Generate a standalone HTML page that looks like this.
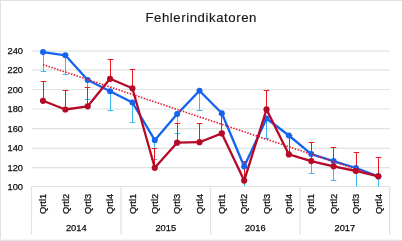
<!DOCTYPE html>
<html><head><meta charset="utf-8"><title>Fehlerindikatoren</title>
<style>html,body{margin:0;padding:0;background:#fff}svg{display:block}text{font-family:"Liberation Sans",sans-serif;fill:#1a1a1a}.s{font-size:9.3px;fill:#0d0d0d;stroke:#0d0d0d;stroke-width:.25px}</style></head>
<body>
<svg width="402" height="241" viewBox="0 0 402 241">
<rect width="402" height="241" fill="#fff"/>
<rect x="0" y="0" width="402" height="1" fill="#dce3e2"/>
<rect x="0" y="0" width="1" height="241" fill="#dce3e2"/>
<rect x="0" y="240" width="402" height="1" fill="#dfe5e4"/>
<rect x="0" y="239" width="402" height="1" fill="#f3f6f5"/>
<line x1="31.5" x2="390.0" y1="186.50" y2="186.50" stroke="#dce4e1" stroke-width="1.2"/>
<line x1="31.5" x2="390.0" y1="167.60" y2="167.60" stroke="#dce4e1" stroke-width="1.2"/>
<line x1="31.5" x2="390.0" y1="148.30" y2="148.30" stroke="#dce4e1" stroke-width="1.2"/>
<line x1="31.5" x2="390.0" y1="128.70" y2="128.70" stroke="#dce4e1" stroke-width="1.2"/>
<line x1="31.5" x2="390.0" y1="109.00" y2="109.00" stroke="#dce4e1" stroke-width="1.2"/>
<line x1="31.5" x2="390.0" y1="89.50" y2="89.50" stroke="#dce4e1" stroke-width="1.2"/>
<line x1="31.5" x2="390.0" y1="69.90" y2="69.90" stroke="#dce4e1" stroke-width="1.2"/>
<line x1="31.5" x2="390.0" y1="51.20" y2="51.20" stroke="#dce4e1" stroke-width="1.2"/>
<line x1="31.50" x2="31.50" y1="186.5" y2="234.6" stroke="#dce4e1" stroke-width="1.2"/>
<line x1="121.03" x2="121.03" y1="186.5" y2="234.6" stroke="#dce4e1" stroke-width="1.2"/>
<line x1="210.55" x2="210.55" y1="186.5" y2="234.6" stroke="#dce4e1" stroke-width="1.2"/>
<line x1="300.08" x2="300.08" y1="186.5" y2="234.6" stroke="#dce4e1" stroke-width="1.2"/>
<line x1="389.60" x2="389.60" y1="186.5" y2="234.6" stroke="#dce4e1" stroke-width="1.2"/>
<text class="s" x="23" y="190.23" text-anchor="end">100</text>
<text class="s" x="23" y="170.74" text-anchor="end">120</text>
<text class="s" x="23" y="151.25" text-anchor="end">140</text>
<text class="s" x="23" y="131.76" text-anchor="end">160</text>
<text class="s" x="23" y="112.27" text-anchor="end">180</text>
<text class="s" x="23" y="92.78" text-anchor="end">200</text>
<text class="s" x="23" y="73.29" text-anchor="end">220</text>
<text class="s" x="23" y="53.80" text-anchor="end">240</text>
<text x="201.2" y="22.1" font-size="13.2" letter-spacing="0.57" text-anchor="middle" fill="#111" stroke="#111" stroke-width="0.15">Fehlerindikatoren</text>
<text class="s" transform="translate(46.20,214) rotate(-90)">Qrtl1</text>
<text class="s" transform="translate(68.55,214) rotate(-90)">Qrtl2</text>
<text class="s" transform="translate(90.91,214) rotate(-90)">Qrtl3</text>
<text class="s" transform="translate(113.26,214) rotate(-90)">Qrtl4</text>
<text class="s" transform="translate(135.61,214) rotate(-90)">Qrtl1</text>
<text class="s" transform="translate(157.97,214) rotate(-90)">Qrtl2</text>
<text class="s" transform="translate(180.32,214) rotate(-90)">Qrtl3</text>
<text class="s" transform="translate(202.67,214) rotate(-90)">Qrtl4</text>
<text class="s" transform="translate(225.02,214) rotate(-90)">Qrtl1</text>
<text class="s" transform="translate(247.38,214) rotate(-90)">Qrtl2</text>
<text class="s" transform="translate(269.73,214) rotate(-90)">Qrtl3</text>
<text class="s" transform="translate(292.08,214) rotate(-90)">Qrtl4</text>
<text class="s" transform="translate(314.44,214) rotate(-90)">Qrtl1</text>
<text class="s" transform="translate(336.79,214) rotate(-90)">Qrtl2</text>
<text class="s" transform="translate(359.14,214) rotate(-90)">Qrtl3</text>
<text class="s" transform="translate(381.50,214) rotate(-90)">Qrtl4</text>
<text class="s" x="76.26" y="230.5" text-anchor="middle">2014</text>
<text class="s" x="165.79" y="230.5" text-anchor="middle">2015</text>
<text class="s" x="255.31" y="230.5" text-anchor="middle">2016</text>
<text class="s" x="344.84" y="230.5" text-anchor="middle">2017</text>
<line x1="43.50" x2="43.50" y1="52.10" y2="71.50" stroke="#3db8f2" stroke-width="1"/>
<line x1="40.70" x2="46.30" y1="71.50" y2="71.50" stroke="#3db8f2" stroke-width="1"/>
<line x1="65.50" x2="65.50" y1="55.30" y2="74.50" stroke="#3db8f2" stroke-width="1"/>
<line x1="62.70" x2="68.30" y1="74.50" y2="74.50" stroke="#3db8f2" stroke-width="1"/>
<line x1="87.50" x2="87.50" y1="80.00" y2="99.50" stroke="#3db8f2" stroke-width="1"/>
<line x1="84.70" x2="90.30" y1="99.50" y2="99.50" stroke="#3db8f2" stroke-width="1"/>
<line x1="110.50" x2="110.50" y1="91.30" y2="110.50" stroke="#3db8f2" stroke-width="1"/>
<line x1="107.70" x2="113.30" y1="110.50" y2="110.50" stroke="#3db8f2" stroke-width="1"/>
<line x1="132.50" x2="132.50" y1="102.50" y2="122.50" stroke="#3db8f2" stroke-width="1"/>
<line x1="129.70" x2="135.30" y1="122.50" y2="122.50" stroke="#3db8f2" stroke-width="1"/>
<line x1="154.50" x2="154.50" y1="140.20" y2="159.50" stroke="#3db8f2" stroke-width="1"/>
<line x1="151.70" x2="157.30" y1="159.50" y2="159.50" stroke="#3db8f2" stroke-width="1"/>
<line x1="177.50" x2="177.50" y1="114.10" y2="133.50" stroke="#3db8f2" stroke-width="1"/>
<line x1="174.70" x2="180.30" y1="133.50" y2="133.50" stroke="#3db8f2" stroke-width="1"/>
<line x1="199.50" x2="199.50" y1="90.70" y2="110.50" stroke="#3db8f2" stroke-width="1"/>
<line x1="196.70" x2="202.30" y1="110.50" y2="110.50" stroke="#3db8f2" stroke-width="1"/>
<line x1="221.50" x2="221.50" y1="113.30" y2="132.50" stroke="#3db8f2" stroke-width="1"/>
<line x1="218.70" x2="224.30" y1="132.50" y2="132.50" stroke="#3db8f2" stroke-width="1"/>
<line x1="244.50" x2="244.50" y1="166.50" y2="186.10" stroke="#3db8f2" stroke-width="1"/>
<line x1="266.50" x2="266.50" y1="118.50" y2="138.50" stroke="#3db8f2" stroke-width="1"/>
<line x1="263.70" x2="269.30" y1="138.50" y2="138.50" stroke="#3db8f2" stroke-width="1"/>
<line x1="289.50" x2="289.50" y1="135.50" y2="155.50" stroke="#3db8f2" stroke-width="1"/>
<line x1="286.70" x2="292.30" y1="155.50" y2="155.50" stroke="#3db8f2" stroke-width="1"/>
<line x1="311.50" x2="311.50" y1="154.10" y2="173.50" stroke="#3db8f2" stroke-width="1"/>
<line x1="308.70" x2="314.30" y1="173.50" y2="173.50" stroke="#3db8f2" stroke-width="1"/>
<line x1="333.50" x2="333.50" y1="161.10" y2="180.50" stroke="#3db8f2" stroke-width="1"/>
<line x1="330.70" x2="336.30" y1="180.50" y2="180.50" stroke="#3db8f2" stroke-width="1"/>
<line x1="356.50" x2="356.50" y1="168.00" y2="186.50" stroke="#3db8f2" stroke-width="1"/>
<line x1="378.50" x2="378.50" y1="176.30" y2="186.50" stroke="#3db8f2" stroke-width="1"/>
<line x1="43.50" x2="43.50" y1="100.80" y2="81.50" stroke="#ee1822" stroke-width="1"/>
<line x1="40.70" x2="46.30" y1="81.50" y2="81.50" stroke="#ee1822" stroke-width="1"/>
<line x1="65.50" x2="65.50" y1="109.50" y2="90.50" stroke="#ee1822" stroke-width="1"/>
<line x1="62.70" x2="68.30" y1="90.50" y2="90.50" stroke="#ee1822" stroke-width="1"/>
<line x1="87.50" x2="87.50" y1="106.30" y2="87.50" stroke="#ee1822" stroke-width="1"/>
<line x1="84.70" x2="90.30" y1="87.50" y2="87.50" stroke="#ee1822" stroke-width="1"/>
<line x1="110.50" x2="110.50" y1="78.80" y2="59.50" stroke="#ee1822" stroke-width="1"/>
<line x1="107.70" x2="113.30" y1="59.50" y2="59.50" stroke="#ee1822" stroke-width="1"/>
<line x1="132.50" x2="132.50" y1="88.30" y2="69.50" stroke="#ee1822" stroke-width="1"/>
<line x1="129.70" x2="135.30" y1="69.50" y2="69.50" stroke="#ee1822" stroke-width="1"/>
<line x1="154.50" x2="154.50" y1="167.80" y2="148.50" stroke="#ee1822" stroke-width="1"/>
<line x1="151.70" x2="157.30" y1="148.50" y2="148.50" stroke="#ee1822" stroke-width="1"/>
<line x1="177.50" x2="177.50" y1="142.70" y2="123.50" stroke="#ee1822" stroke-width="1"/>
<line x1="174.70" x2="180.30" y1="123.50" y2="123.50" stroke="#ee1822" stroke-width="1"/>
<line x1="199.50" x2="199.50" y1="142.20" y2="123.50" stroke="#ee1822" stroke-width="1"/>
<line x1="196.70" x2="202.30" y1="123.50" y2="123.50" stroke="#ee1822" stroke-width="1"/>
<line x1="221.50" x2="221.50" y1="133.40" y2="114.50" stroke="#ee1822" stroke-width="1"/>
<line x1="218.70" x2="224.30" y1="114.50" y2="114.50" stroke="#ee1822" stroke-width="1"/>
<line x1="244.50" x2="244.50" y1="180.60" y2="161.50" stroke="#ee1822" stroke-width="1"/>
<line x1="241.70" x2="247.30" y1="161.50" y2="161.50" stroke="#ee1822" stroke-width="1"/>
<line x1="266.50" x2="266.50" y1="109.40" y2="90.50" stroke="#ee1822" stroke-width="1"/>
<line x1="263.70" x2="269.30" y1="90.50" y2="90.50" stroke="#ee1822" stroke-width="1"/>
<line x1="289.50" x2="289.50" y1="154.40" y2="135.50" stroke="#ee1822" stroke-width="1"/>
<line x1="286.70" x2="292.30" y1="135.50" y2="135.50" stroke="#ee1822" stroke-width="1"/>
<line x1="311.50" x2="311.50" y1="161.10" y2="142.50" stroke="#ee1822" stroke-width="1"/>
<line x1="308.70" x2="314.30" y1="142.50" y2="142.50" stroke="#ee1822" stroke-width="1"/>
<line x1="333.50" x2="333.50" y1="166.30" y2="147.50" stroke="#ee1822" stroke-width="1"/>
<line x1="330.70" x2="336.30" y1="147.50" y2="147.50" stroke="#ee1822" stroke-width="1"/>
<line x1="356.50" x2="356.50" y1="171.00" y2="152.50" stroke="#ee1822" stroke-width="1"/>
<line x1="353.70" x2="359.30" y1="152.50" y2="152.50" stroke="#ee1822" stroke-width="1"/>
<line x1="378.50" x2="378.50" y1="176.30" y2="157.50" stroke="#ee1822" stroke-width="1"/>
<line x1="375.70" x2="381.30" y1="157.50" y2="157.50" stroke="#ee1822" stroke-width="1"/>
<polyline points="43.00,52.10 65.35,55.30 87.71,80.00 110.06,91.30 132.41,102.50 154.77,140.20 177.12,114.10 199.47,90.70 221.82,113.30 244.18,166.50 266.53,118.50 288.88,135.50 311.24,154.10 333.59,161.10 355.94,168.00 378.30,176.30" fill="none" stroke="#1464f0" stroke-width="2.3" stroke-linejoin="round" stroke-linecap="round"/>
<circle cx="43.00" cy="52.10" r="3" fill="#1464f0"/>
<circle cx="65.35" cy="55.30" r="3" fill="#1464f0"/>
<circle cx="87.71" cy="80.00" r="3" fill="#1464f0"/>
<circle cx="110.06" cy="91.30" r="3" fill="#1464f0"/>
<circle cx="132.41" cy="102.50" r="3" fill="#1464f0"/>
<circle cx="154.77" cy="140.20" r="3" fill="#1464f0"/>
<circle cx="177.12" cy="114.10" r="3" fill="#1464f0"/>
<circle cx="199.47" cy="90.70" r="3" fill="#1464f0"/>
<circle cx="221.82" cy="113.30" r="3" fill="#1464f0"/>
<circle cx="244.18" cy="166.50" r="3" fill="#1464f0"/>
<circle cx="266.53" cy="118.50" r="3" fill="#1464f0"/>
<circle cx="288.88" cy="135.50" r="3" fill="#1464f0"/>
<circle cx="311.24" cy="154.10" r="3" fill="#1464f0"/>
<circle cx="333.59" cy="161.10" r="3" fill="#1464f0"/>
<circle cx="355.94" cy="168.00" r="3" fill="#1464f0"/>
<circle cx="378.30" cy="176.30" r="3" fill="#1464f0"/>
<line x1="43.00" y1="64.6" x2="378.30" y2="176.6" stroke="#e8142c" stroke-width="1.6" stroke-dasharray="1.45 1.5"/>
<polyline points="43.00,100.80 65.35,109.50 87.71,106.30 110.06,78.80 132.41,88.30 154.77,167.80 177.12,142.70 199.47,142.20 221.82,133.40 244.18,180.60 266.53,109.40 288.88,154.40 311.24,161.10 333.59,166.30 355.94,171.00 378.30,176.30" fill="none" stroke="#b50a28" stroke-width="2.3" stroke-linejoin="round" stroke-linecap="round"/>
<circle cx="43.00" cy="100.80" r="3.1" fill="#b50a28"/>
<circle cx="65.35" cy="109.50" r="3.1" fill="#b50a28"/>
<circle cx="87.71" cy="106.30" r="3.1" fill="#b50a28"/>
<circle cx="110.06" cy="78.80" r="3.1" fill="#b50a28"/>
<circle cx="132.41" cy="88.30" r="3.1" fill="#b50a28"/>
<circle cx="154.77" cy="167.80" r="3.1" fill="#b50a28"/>
<circle cx="177.12" cy="142.70" r="3.1" fill="#b50a28"/>
<circle cx="199.47" cy="142.20" r="3.1" fill="#b50a28"/>
<circle cx="221.82" cy="133.40" r="3.1" fill="#b50a28"/>
<circle cx="244.18" cy="180.60" r="3.1" fill="#b50a28"/>
<circle cx="266.53" cy="109.40" r="3.1" fill="#b50a28"/>
<circle cx="288.88" cy="154.40" r="3.1" fill="#b50a28"/>
<circle cx="311.24" cy="161.10" r="3.1" fill="#b50a28"/>
<circle cx="333.59" cy="166.30" r="3.1" fill="#b50a28"/>
<circle cx="355.94" cy="171.00" r="3.1" fill="#b50a28"/>
<circle cx="378.30" cy="176.30" r="3.1" fill="#b50a28"/>
</svg>
</body></html>
